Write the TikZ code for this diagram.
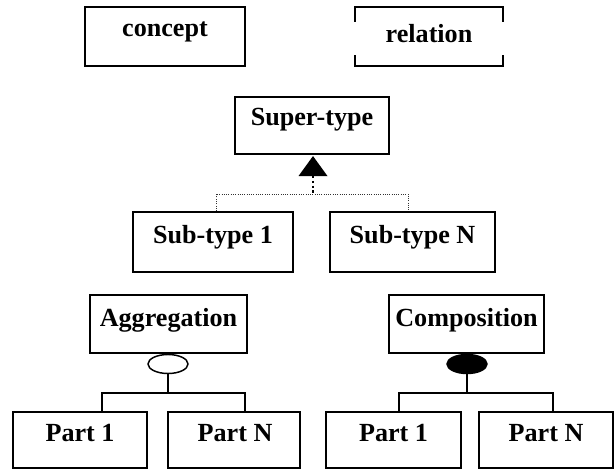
\documentclass[tikz,border=0pt]{standalone}
\usepackage{fontspec}
\setmainfont{Liberation Serif}
\usetikzlibrary{shapes.geometric}
\begin{document}
\begin{tikzpicture}[x=0.75pt,y=-0.75pt,
  box/.style={draw,line width=1.5pt,rectangle,inner sep=0pt},
  lbl/.style={anchor=base,inner sep=0pt,font=\fontsize{19.6}{22}\selectfont\bfseries},
  conn/.style={line width=1.1pt},
  dotline/.style={densely dotted,line width=0.7pt,draw=black!80}]
\useasboundingbox (0,0) rectangle (616,470);
% legend
\node[box,minimum width=160*0.75pt,minimum height=59*0.75pt] (concept) at (165,36.5) {};
\node[lbl] (tconcept) at (165,37) {concept};
\node[rectangle,inner sep=0pt,minimum width=148*0.75pt,minimum height=59*0.75pt] (relation) at (429,36.5) {};
\node[lbl] (trelation) at (429,43) {relation};
\draw[line width=1.5pt] ([yshift=-15*0.75pt]relation.north west) -- (relation.north west) -- (relation.north east) -- ([yshift=-15*0.75pt]relation.north east);
\draw[line width=1.5pt] ([yshift=11*0.75pt]relation.south west) -- (relation.south west) -- (relation.south east) -- ([yshift=11*0.75pt]relation.south east);
% generalisation
\node[box,minimum width=154*0.75pt,minimum height=57*0.75pt] (super) at (312,125.5) {};
\node[lbl] (tsuper) at (312,126) {Super-type};
\node[box,minimum width=160*0.75pt,minimum height=60*0.75pt] (sub1) at (213,242) {};
\node[lbl] (tsub1) at (213,243) {Sub-type 1};
\node[box,minimum width=165*0.75pt,minimum height=60*0.75pt] (subN) at (412.5,242) {};
\node[lbl] (tsubN) at (412.5,243) {Sub-type N};
\coordinate (gj) at (313,194);
\fill ([yshift=-0.8pt]super.south) ++(1,0) coordinate (apex) -- ++(-14.5,20) -- ++(29,0) -- cycle;
\draw[dotted,line width=1.6pt] (apex) ++(0,20) -- (gj);
\draw[dotline] (sub1.north -| 216,0) -- (216,194) -- (408,194) -- (subN.north -| 408,0);
% aggregation
\node[box,minimum width=157*0.75pt,minimum height=58*0.75pt] (agg) at (168.5,324) {};
\node[lbl] (tagg) at (168.5,326) {Aggregation};
\node[draw,ellipse,line width=1.1pt,fill=white,minimum width=40*0.75pt,minimum height=19*0.75pt,inner sep=0pt] (aggd) at (168,364) {};
\node[box,minimum width=134*0.75pt,minimum height=56*0.75pt] (p1a) at (80,440) {};
\node[lbl] (tp1a) at (80,441) {Part 1};
\node[box,minimum width=132*0.75pt,minimum height=56*0.75pt] (pNa) at (234,440) {};
\node[lbl] (tpNa) at (235,441) {Part N};
\coordinate (aj) at (168,393);
\draw[conn] (aggd.south) -- (aj);
\draw[conn] (p1a.north -| 102,0) -- (102,393) -- (245,393) -- (pNa.north -| 245,0);
% composition
\node[box,minimum width=155*0.75pt,minimum height=58*0.75pt] (comp) at (466.5,324) {};
\node[lbl] (tcomp) at (466.5,326) {Composition};
\node[draw,ellipse,line width=1.1pt,fill=black,minimum width=40*0.75pt,minimum height=19*0.75pt,inner sep=0pt] (compd) at (467,364) {};
\node[box,minimum width=135*0.75pt,minimum height=56*0.75pt] (p1b) at (393.5,440) {};
\node[lbl] (tp1b) at (393.5,441) {Part 1};
\node[box,minimum width=134*0.75pt,minimum height=56*0.75pt] (pNb) at (546,440) {};
\node[lbl] (tpNb) at (546,441) {Part N};
\coordinate (cj) at (467,393);
\draw[conn] (compd.south) -- (cj);
\draw[conn] (p1b.north -| 399,0) -- (399,393) -- (553,393) -- (pNb.north -| 553,0);
\end{tikzpicture}
\end{document}
